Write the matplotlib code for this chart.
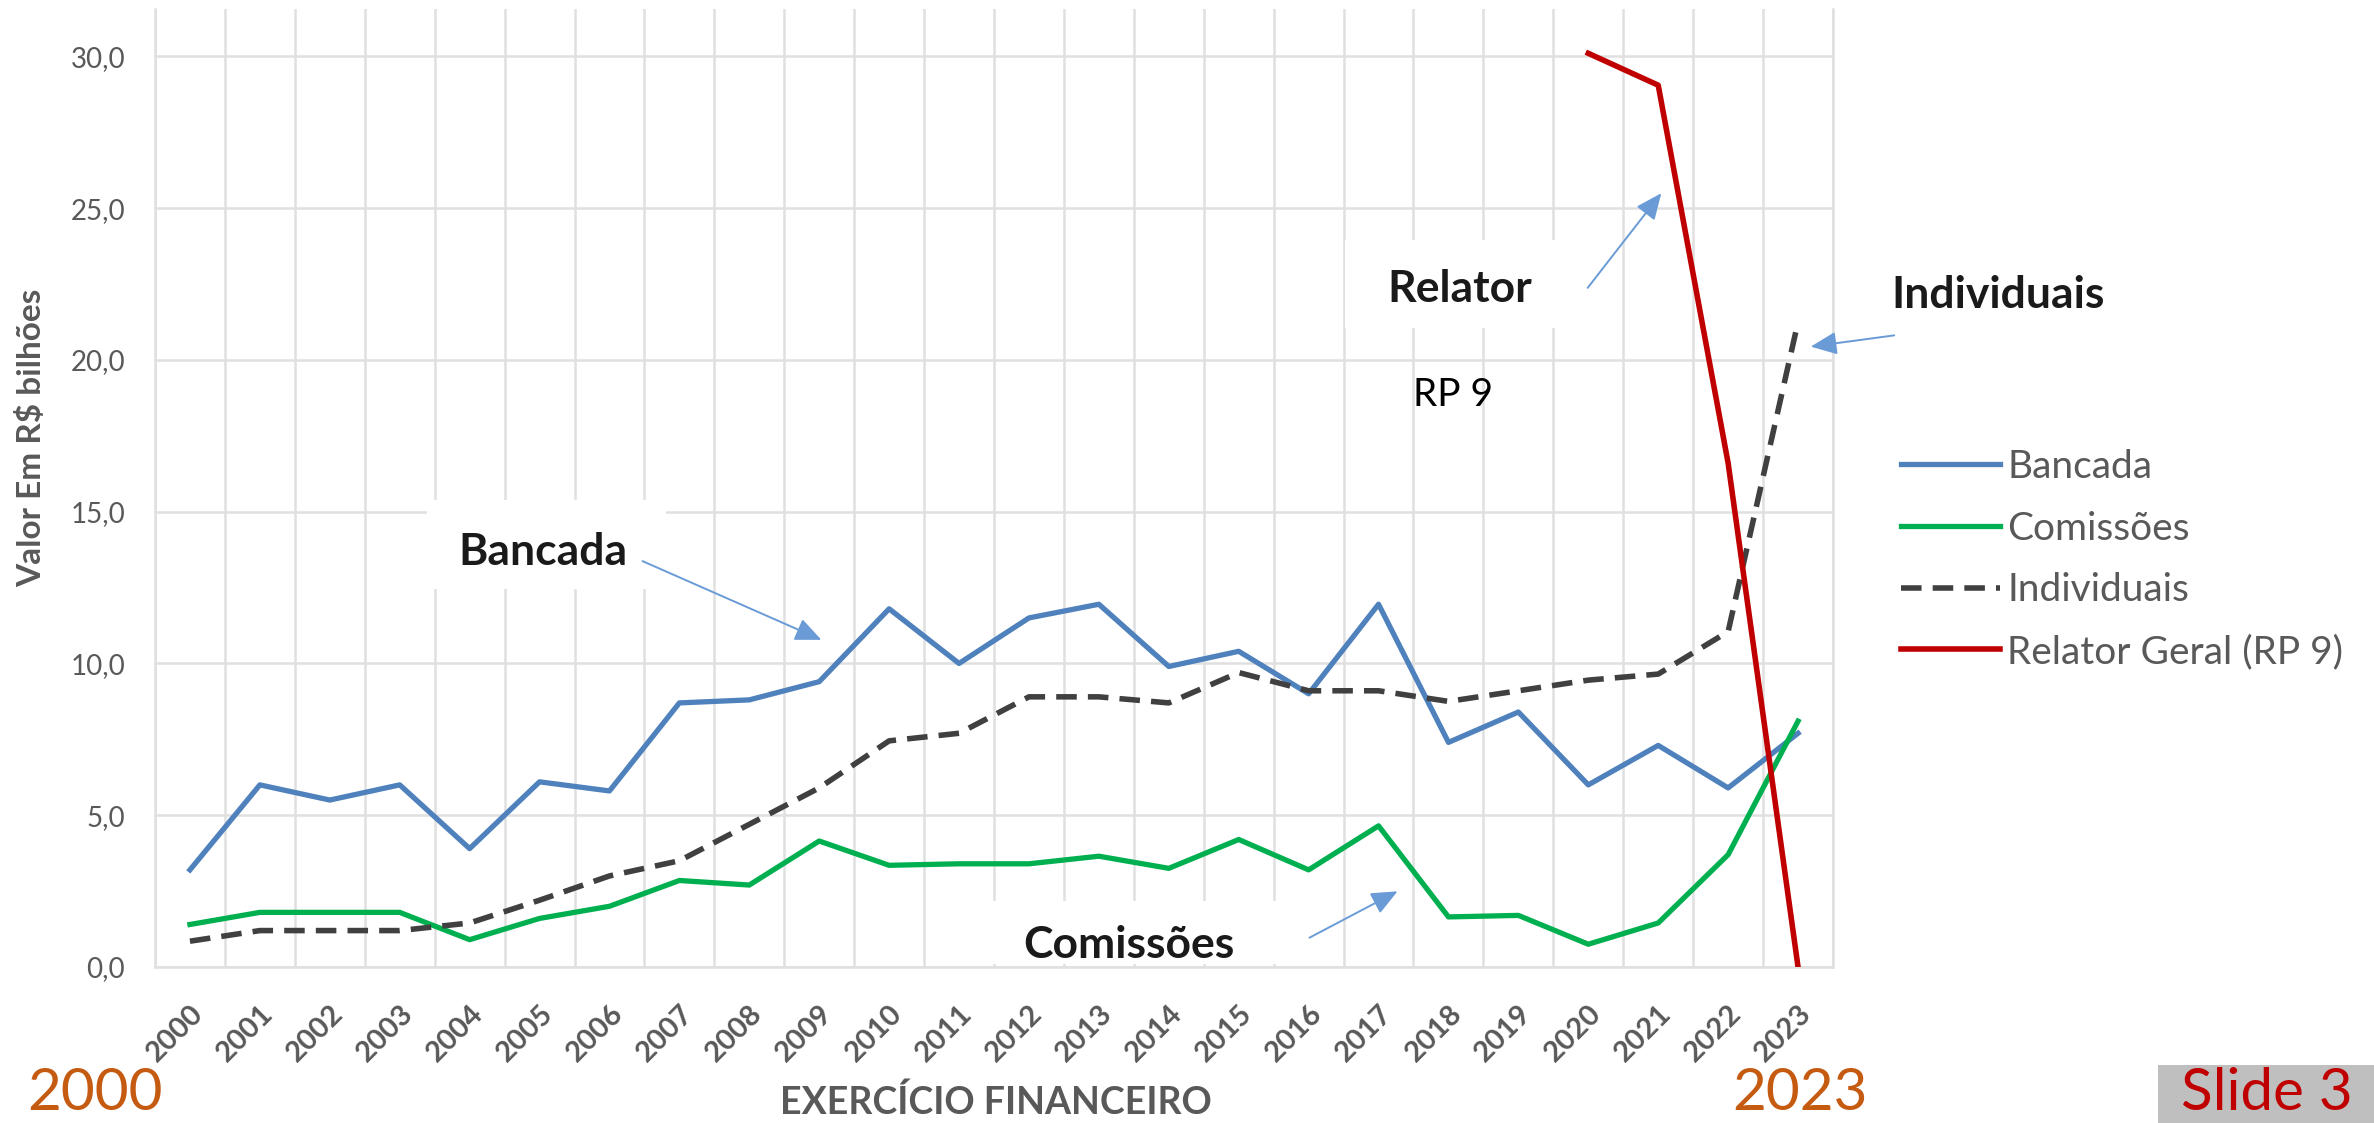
"""
Emendas parlamentares 2000-2023 por tipo (Bancada, Comissões, Individuais, RP 9)
Recria o gráfico de linhas do slide 3.
"""
import numpy as np
import matplotlib
matplotlib.use("Agg")
import matplotlib.pyplot as plt
from matplotlib.patches import Rectangle

W, H = 2374, 1123

# ── Dados (R$ bilhões) ───────────────────────────────────────────
YEARS = list(range(2000, 2024))
BANCADA = [3.2, 6.0, 5.5, 6.0, 3.9, 6.1, 5.8, 8.7, 8.8, 9.4, 11.8, 10.0,
           11.5, 11.95, 9.9, 10.4, 9.0, 11.95, 7.4, 8.4, 6.0, 7.3, 5.9, 7.7]
COMISSOES = [1.4, 1.8, 1.8, 1.8, 0.9, 1.6, 2.0, 2.85, 2.7, 4.15, 3.35, 3.4,
             3.4, 3.65, 3.25, 4.2, 3.2, 4.65, 1.65, 1.7, 0.75, 1.45, 3.7, 8.1]
INDIVIDUAIS = [0.85, 1.2, 1.2, 1.2, 1.45, 2.2, 3.0, 3.5, 4.7, 5.9, 7.45, 7.7,
               8.9, 8.9, 8.7, 9.7, 9.1, 9.1, 8.75, 9.1, 9.45, 9.65, 11.05, 21.25]
RELATOR = [None] * 20 + [30.1, 29.05, 16.6, 0.0]

SERIES = ["Bancada", "Comissões", "Individuais", "Relator Geral (RP 9)"]
Y_TICKS = [0, 5, 10, 15, 20, 25, 30]

BLUE, GREEN, DGRAY, RED = "#4F81BD", "#00B050", "#404040", "#C00000"
TXT_GRAY = "#595959"
GRID = "#E0E0E0"

plt.rcParams["font.family"] = ["Lato", "DejaVu Sans"]


def fx(px):
    return px / W


def fy(py):
    # pixel row from the top -> figure fraction
    return 1 - py / H


fig = plt.figure(figsize=(W / 100, H / 100), dpi=100)
ax = fig.add_axes([fx(155), fy(967), fx(1833 - 155), (967 - 9) / H])

x = np.arange(len(YEARS))
relator = np.array([np.nan if v is None else v for v in RELATOR], dtype=float)

h1, = ax.plot(x, BANCADA, color=BLUE, lw=3.8, zorder=3)
h2, = ax.plot(x, COMISSOES, color=GREEN, lw=3.8, zorder=3)
h3, = ax.plot(x, INDIVIDUAIS, color=DGRAY, lw=4.0, ls=(0, (3.7, 2.0)), zorder=3)
h4, = ax.plot(x, relator, color=RED, lw=4.0, zorder=4)

ax.set_xlim(-0.5, len(YEARS) - 0.5)
ax.set_ylim(0, 31.56)

# ── Eixos e grade ────────────────────────────────────────────────
ax.set_yticks(Y_TICKS)
ax.set_yticklabels([f"{v:.1f}".replace(".", ",") for v in Y_TICKS])
ax.set_xticks(x)
ax.set_xticklabels([str(y) for y in YEARS], rotation=45, ha="right", va="top",
                   rotation_mode="anchor", fontsize=21, fontweight="bold",
                   color=TXT_GRAY)
ax.set_xticks(np.arange(-0.5, len(YEARS), 1), minor=True)
ax.tick_params(axis="y", length=0, pad=21.6, labelsize=20, labelcolor=TXT_GRAY)
ax.tick_params(axis="x", which="both", length=0, pad=24)

ax.set_axisbelow(True)
ax.grid(axis="y", which="major", color=GRID, lw=1.8)
ax.grid(axis="x", which="minor", color=GRID, lw=1.8)
for side in ["left", "right", "bottom"]:
    ax.spines[side].set_color(GRID)
    ax.spines[side].set_linewidth(1.8)
ax.spines["top"].set_visible(False)

# caixas brancas atrás das anotações (escondem a grade)
for x0, y0, x1, y1 in [(427, 500, 666, 589), (960, 901, 1300, 964),
                       (1345, 240, 1590, 328)]:
    ax.add_patch(Rectangle((fx(x0), fy(y1)), fx(x1 - x0), (y1 - y0) / H,
                           transform=fig.transFigure, facecolor="white",
                           edgecolor="none", zorder=1, clip_on=False))

# ── Anotações ────────────────────────────────────────────────────
for label, cx, base in [("Bancada", 543, 565), ("Comissões", 1129, 958),
                        ("Relator", 1460, 302), ("Individuais", 1998, 308)]:
    fig.text(fx(cx), fy(base), label, ha="center", va="baseline",
             fontsize=32, fontweight="bold", color="#1A1A1A")
fig.text(fx(1453), fy(406), "RP 9", ha="center", va="baseline",
         fontsize=28, color="black")

arrow_kw = dict(arrowstyle="-|>,head_length=0.8,head_width=0.35",
                color="#6A9BD6", lw=1.4, mutation_scale=20)
for (tx, ty), (hx, hy) in [((640, 560), (824, 641)), ((1307, 939), (1400, 890)),
                           ((1586, 290), (1663, 191)), ((1897, 335), (1808, 347))]:
    ax.annotate("", xy=(hx, H - hy), xycoords="figure pixels",
                xytext=(tx, H - ty), textcoords="figure pixels",
                arrowprops=arrow_kw)

# ── Legenda ──────────────────────────────────────────────────────
fig.legend([h1, h2, h3, h4], SERIES, loc="upper left",
           bbox_to_anchor=(fx(1901), fy(449)), frameon=False, fontsize=28,
           handlelength=2.55, handletextpad=0.18, labelspacing=0.66,
           borderpad=0, borderaxespad=0, labelcolor=TXT_GRAY)

# ── Títulos dos eixos e textos do slide ──────────────────────────
fig.text(fx(31), fy(438), "Valor Em R\\$ bilhões", rotation=90, ha="center",
         va="center", fontsize=24, fontweight="bold", color=TXT_GRAY)
fig.text(fx(996), fy(1114), "EXERCÍCIO FINANCEIRO", ha="center", va="baseline",
         fontsize=27, fontweight="bold", color=TXT_GRAY)

fig.text(fx(27), fy(1110), "2000", ha="left", va="baseline", fontsize=42,
         color="#C55A11")
fig.text(fx(1800), fy(1110), "2023", ha="center", va="baseline", fontsize=42,
         color="#C55A11")

fig.patches.append(Rectangle((fx(2158), 0), fx(W - 2158), (H - 1065) / H,
                             transform=fig.transFigure, facecolor="#BFBFBF",
                             edgecolor="none", zorder=0))
fig.text(fx(2181), fy(1110), "Slide 3", ha="left", va="baseline", fontsize=42,
         color="#C00000")

fig.savefig("out.png", dpi=100)
plt.close(fig)
